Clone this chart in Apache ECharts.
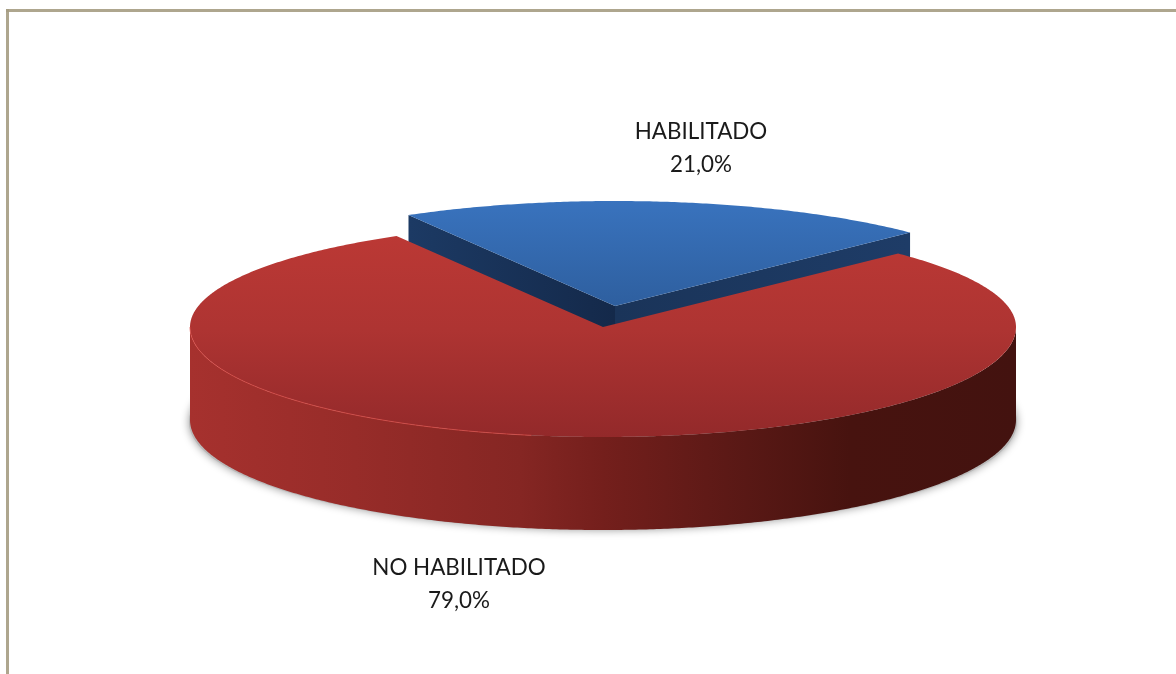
<!DOCTYPE html>
<html><head><meta charset="utf-8">
<style>html,body{margin:0;padding:0;background:#fff}#c{width:1176px;height:674px;filter:blur(0.5px)}</style>
<script src="https://cdn.jsdelivr.net/npm/echarts@6/dist/echarts.min.js"></script>
</head><body><div id="c"></div>
<script>
const categories = ['HABILITADO', 'NO HABILITADO'];
const values = [21.0, 79.0];

const chart = echarts.init(document.getElementById('c'), null, {renderer: 'canvas'});
const total = values.reduce((a, b) => a + b, 0);
const START = -30.0, RX = 413, RY_TOP = 105, RY_BOT = 110, DEPTH = 93;
const CENTERS = [[615, 306], [603, 327]];
const LABELS = [[701, 148.5], [459, 584.5]];
const rad = d => d * Math.PI / 180;
function pt(c, deg, dy) {
  const co = Math.cos(rad(deg));
  return [c[0] + RX * Math.sin(rad(deg)), c[1] - co * (co > 0 ? RY_TOP : RY_BOT) + (dy || 0)];
}
function arc(c, a, b, dy) {
  const n = Math.max(2, Math.ceil(Math.abs(b - a) * 2)), out = [];
  for (let i = 0; i <= n; i++) out.push(pt(c, a + (b - a) * i / n, dy));
  return out;
}
const lg = (x, y, x2, y2, stops) => ({type: 'linear', x, y, x2, y2, global: true,
  colorStops: stops.map(s => ({offset: s[0], color: s[1]}))});
const poly = (points, fill, z2, extra) => ({type: 'polygon', shape: {points}, z2,
  style: Object.assign({fill}, extra || {})});

function renderItem(params, api) {
  const i = params.dataIndex, v = api.value(0);
  let before = 0;
  for (let k = 0; k < i; k++) before += values[k];
  const a = START + before / total * 360, b = a + v / total * 360, c = CENTERS[i];
  const children = [];
  if (i === 0) {
    const topFill = lg(0, 200, 0, 306, [[0, '#3973BE'], [1, '#2E5F9F']]);
    const aP = pt(c, a), bP = pt(c, b);
    children.push(poly([aP, c, [c[0], c[1] + DEPTH], [aP[0], aP[1] + DEPTH]],
      lg(409, 0, 615, 0, [[0, '#1C3A64'], [1, '#14294A']]), 1));
    children.push(poly([bP, c, [c[0], c[1] + DEPTH], [bP[0], bP[1] + DEPTH]],
      lg(615, 0, 908, 0, [[0, '#1A3459'], [1, '#1E3C67']]), 1));
    children.push(poly([c].concat(arc(c, a, b)), topFill, 2));
  } else {
    // soft shadow under the disc
    children.push({type: 'ellipse', z2: 0,
      shape: {cx: c[0], cy: c[1] + 95, rx: RX + 1, ry: RY_BOT - 2},
      style: {fill: '#b8b8b8', shadowBlur: 8, shadowColor: 'rgba(0,0,0,0.4)'}});
    const front = arc(c, 90, 270);
    const wall = front.concat(arc(c, 270, 90, DEPTH));
    children.push(poly(wall, lg(190, 0, 1016, 0, [
      [0, '#A6312E'], [0.2, '#972C29'], [0.4, '#852623'], [0.5, '#741F1C'],
      [0.65, '#5C1916'], [0.8, '#47130F'], [1, '#43120F']]), 3));
    children.push(poly([c].concat(arc(c, a, b)),
      lg(0, 222, 0, 437, [[0, '#BD3935'], [0.5, '#AE3432'], [1, '#93292A']]), 4));
    children.push({type: 'polyline', z2: 5, shape: {points: arc(c, 270, 190)},
      style: {fill: null, stroke: 'rgba(226,80,74,0.7)', lineWidth: 1}});
  }
  children.push({type: 'text', z2: 10, x: LABELS[i][0], y: LABELS[i][1], style: {
    text: categories[i] + '\n' + v.toFixed(1).replace('.', ',') + '%',
    fontFamily: 'Lato', fontSize: 22.4, lineHeight: 33, fill: '#1a1a1a',
    align: 'center', verticalAlign: 'middle'}});
  return {type: 'group', children};
}

chart.setOption({
  animation: false,
  backgroundColor: '#fff',
  graphic: [
    {type: 'line', silent: true, shape: {x1: 6, y1: 10.5, x2: 1176, y2: 10.5},
      style: {stroke: '#A59C82', lineWidth: 3, opacity: 0.9}},
    {type: 'line', silent: true, shape: {x1: 7.5, y1: 9, x2: 7.5, y2: 674},
      style: {stroke: '#A59C82', lineWidth: 3, opacity: 0.9}}
  ],
  series: [{
    type: 'custom', coordinateSystem: 'none', silent: true,
    data: categories.map((n, i) => ({name: n, value: [values[i]]})),
    encode: {value: 0},
    renderItem
  }]
});
</script></body></html>
